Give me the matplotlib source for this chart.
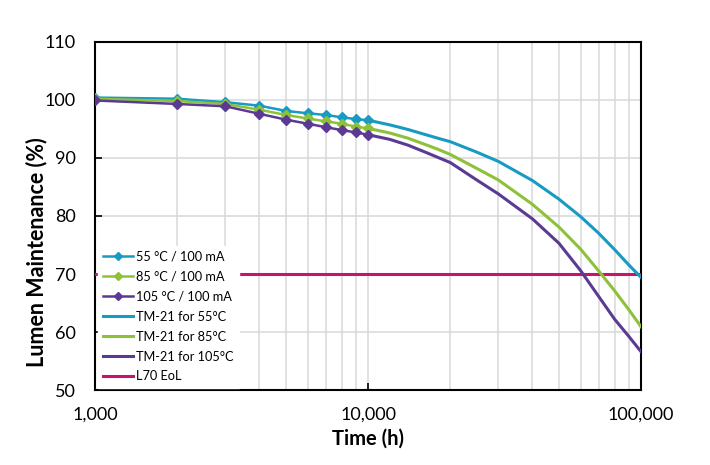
''' lumen maintenance vs time with TM-21 extrapolation '''
import matplotlib
matplotlib.use('Agg')
import matplotlib.pyplot as plt
from matplotlib.ticker import FixedLocator, NullFormatter, FuncFormatter, LogLocator

# measured data (h, %)
hours = [1000, 2000, 3000, 4000, 5000, 6000, 7000, 8000, 9000, 10000]
lm_55 = [100.4, 100.2, 99.6, 99.0, 98.1, 97.7, 97.4, 97.0, 96.7, 96.5]
lm_85 = [100.2, 99.8, 99.3, 98.3, 97.4, 96.8, 96.3, 95.9, 95.4, 95.1]
lm_105 = [99.9, 99.3, 98.9, 97.6, 96.6, 95.9, 95.3, 94.8, 94.4, 94.0]

# TM-21 projection
tm_hours = [10000, 12000, 14000, 16000, 18000, 20000, 25000, 30000,
            40000, 50000, 60000, 70000, 80000, 90000, 100000]
tm_55 = [96.5, 95.7, 94.9, 94.1, 93.4, 92.8, 91.0, 89.4,
         86.1, 82.9, 79.9, 77.0, 74.2, 71.6, 69.4]
tm_85 = [95.1, 94.3, 93.4, 92.4, 91.5, 90.6, 88.2, 86.2,
         82.0, 78.1, 74.3, 70.5, 67.1, 63.9, 60.9]
tm_105 = [94.0, 93.2, 92.2, 91.1, 90.1, 89.2, 86.2, 83.8,
          79.5, 75.3, 70.6, 66.1, 62.2, 59.3, 56.6]

l70_hours = [1000, 100000]
l70 = [70, 70]

labels = ['55 °C / 100 mA', '85 °C / 100 mA', '105 °C / 100 mA',
          'TM-21 for 55°C', 'TM-21 for 85°C', 'TM-21 for 105°C', 'L70 EoL']

c55 = '#179BC2'
c85 = '#8DC13A'
c105 = '#5A3A92'
cl70 = '#C8136E'

plt.rcParams['font.family'] = ['Lato', 'DejaVu Sans']

fig = plt.figure(figsize=(7.1, 4.65), dpi=100)
ax = fig.add_axes([0.134, 0.161, 0.769, 0.749])

ax.plot(hours, lm_55, color=c55, lw=1.8, marker='D', ms=5, label=labels[0], zorder=5)
ax.plot(hours, lm_85, color=c85, lw=1.8, marker='D', ms=5, label=labels[1], zorder=5)
ax.plot(hours, lm_105, color=c105, lw=1.8, marker='D', ms=5, label=labels[2], zorder=5)
ax.plot(tm_hours, tm_55, color=c55, lw=2.2, label=labels[3], zorder=4)
ax.plot(tm_hours, tm_85, color=c85, lw=2.2, label=labels[4], zorder=4)
ax.plot(tm_hours, tm_105, color=c105, lw=2.2, label=labels[5], zorder=4)
ax.plot(l70_hours, l70, color=cl70, lw=2.2, label=labels[6], zorder=3)

ax.set_xscale('log')
ax.set_xlim(1000, 100000)
ax.set_ylim(50, 110)
ax.yaxis.set_major_locator(FixedLocator(range(50, 111, 10)))
ax.xaxis.set_major_locator(FixedLocator([1000, 10000, 100000]))
ax.xaxis.set_minor_locator(LogLocator(base=10, subs=range(2, 10)))
ax.xaxis.set_minor_formatter(NullFormatter())
ax.xaxis.set_major_formatter(FuncFormatter(lambda v, p: '{:,.0f}'.format(v)))

ax.grid(True, which='both', axis='x', color='#d9d9d9', lw=1.1)
ax.grid(True, which='major', axis='y', color='#d9d9d9', lw=1.1)
ax.set_axisbelow(True)

for s in ax.spines.values():
    s.set_color('black')
    s.set_linewidth(1.5)

ax.tick_params(axis='both', which='major', direction='in', length=5, width=1.2,
               labelsize=13)
ax.tick_params(axis='y', which='major', pad=14)
ax.tick_params(axis='x', which='minor', length=0)
ax.tick_params(axis='x', which='major', pad=12)

ax.set_xlabel('Time (h)', fontsize=14.5, fontweight='bold', labelpad=4)
ax.set_ylabel('Lumen Maintenance (%)', fontsize=15.5, fontweight='bold')
ax.yaxis.set_label_coords(-0.088, 0.395)

leg = ax.legend(loc='lower left', bbox_to_anchor=(0.0, 0.0), fontsize=9.2,
                frameon=True, fancybox=False, framealpha=1, edgecolor='white',
                handlelength=2.4, handletextpad=0.2, labelspacing=0.62,
                borderaxespad=0.2, markerscale=0.8)

fig.savefig('out.png', dpi=100)
